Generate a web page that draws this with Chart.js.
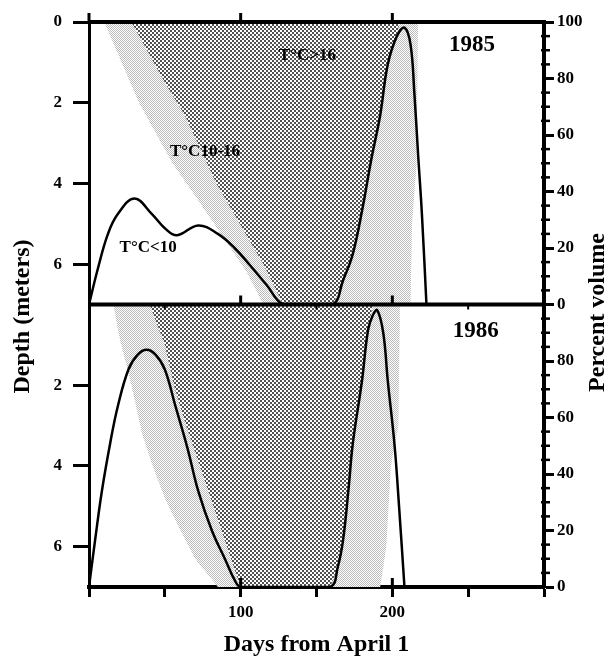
<!DOCTYPE html>
<html>
<head>
<meta charset="utf-8">
<script src="https://cdn.jsdelivr.net/npm/chart.js@4.4.0/dist/chart.umd.min.js"></script>
<style>
  html, body { margin: 0; padding: 0; background: #fff; }
</style>
</head>
<body>
<canvas id="myChart" width="615" height="657"></canvas>
<script>
// percent volume curves, days from April 1
const days1985 = [0, 6, 12.5, 19, 30, 41.5, 50, 58, 72, 85, 96, 106, 117, 128, 145, 161, 167.5, 174, 180.5, 186, 192, 197, 203, 208, 212, 214.5, 217, 219.5, 222.5];
const pct1985 = [0, 13, 25, 32, 37.5, 32, 27, 24.5, 28, 25, 20, 14, 7, 0, 0, 0, 8.5, 18, 34.5, 51, 67, 85, 95, 98, 92, 75, 53, 32, 0];
const days1986 = [0, 4, 8.5, 14, 19, 26, 32, 38, 44, 50, 57, 65, 72, 81, 90, 96, 100, 130, 159, 164, 167.5, 171, 174, 180, 184, 187, 190, 194, 197, 201.5, 204.5, 208];
const pct1986 = [0, 16.5, 34, 51, 64, 77, 82.2, 84, 82.2, 77, 64, 49, 34, 20, 9.5, 2.5, 0, 0, 0, 7, 16.5, 34, 51, 73, 91, 96, 98, 90, 73, 50, 28, 0];

// temperature zones, outline as (day, depth m)
const warmDays1985 = [10, 33, 55, 68, 88, 104, 115, 212, 213, 216, 217];
const warmDepth1985 = [0, 2, 3.5, 4.2, 5.3, 6.2, 7, 7, 5, 3.5, 0];
const hotDays1985 = [28, 50, 63, 84, 115, 128, 161, 167.5, 174, 180.5, 186.5, 192, 197, 203, 205];
const hotDepth1985 = [0, 1.5, 2.3, 4, 6, 7, 7, 6.4, 5.75, 4.6, 3.3, 2.3, 1.1, 0.3, 0];
const warmDays1986 = [16, 20, 28, 35, 42, 50, 59, 70, 85, 192, 196, 199, 204, 205];
const warmDepth1986 = [0, 0.8, 2, 3.2, 4, 4.8, 5.5, 6.3, 7, 7, 6, 4, 3, 0];
const hotDays1986 = [40, 50, 56, 64, 73, 82, 91, 100, 159, 164, 167.5, 171, 174, 180, 184, 187];
const hotDepth1986 = [0, 1, 2, 3, 4, 5, 6, 7, 7, 6.5, 5.85, 4.6, 3.4, 1.87, 0.64, 0];

const depthTicks = [0, 2, 4, 6];
const pctTicks = [0, 20, 40, 60, 80, 100];
const dayLabels = [100, 200];

const serif = "'Liberation Serif', 'Times New Roman', serif";

function pts(xs, ys) {
    return xs.map((x, i) => ({ x: x, y: ys[i] }));
}

// stipple patterns
function makePattern(size, dots, dot, color) {
    const c = document.createElement('canvas');
    c.width = size; c.height = size;
    const g = c.getContext('2d');
    g.fillStyle = '#fff';
    g.fillRect(0, 0, size, size);
    g.fillStyle = color;
    dots.forEach(d => g.fillRect(d[0], d[1], dot, dot));
    return g.createPattern(c, 'repeat');
}
const ctx = document.getElementById('myChart').getContext('2d');
const darkDots = makePattern(4, [[0, 0], [2, 2]], 2, '#505050');
const lightDots = makePattern(2, [[0, 0], [1, 1]], 1, '#bbbbbb');

function seg(c, x1, y1, x2, y2) {
    c.beginPath(); c.moveTo(x1, y1); c.lineTo(x2, y2); c.stroke();
}

const frame = {
    id: 'frame',
    afterDraw(chart) {
        const c = chart.ctx;
        const a = chart.chartArea;
        const s = chart.scales;
        const mid = s.dTop.bottom;
        c.save();
        c.strokeStyle = '#000';
        c.lineWidth = 4;
        seg(c, a.left - 1, a.top, a.right + 2, a.top);
        seg(c, a.left, mid, a.right, mid);
        c.lineWidth = 3;
        seg(c, a.left, a.top - 9, a.left, a.top);
        [100, 200].forEach(v => {
            const px = s.x.getPixelForValue(v);
            seg(c, px, a.top, px, a.top - 9);
            seg(c, px, mid, px, mid - 9);
            seg(c, px, a.bottom, px, a.bottom - 9);
        });
        c.lineWidth = 2;
        [50, 150, 250].forEach(v => {
            const px = s.x.getPixelForValue(v);
            seg(c, px, mid, px, mid + 5);
        });
        // minor ticks on the percent axis
        c.lineWidth = 2.5;
        [s.pTop, s.pBot].forEach(sc => {
            for (let v = 5; v < 100; v += 5) {
                if (v % 20 === 0) continue;
                const py = sc.getPixelForValue(v);
                seg(c, a.right - 3, py, a.right + 6, py);
            }
        });

        c.fillStyle = '#000';
        c.textAlign = 'center';
        c.textBaseline = 'middle';
        c.font = 'bold 24px ' + serif;
        c.save();
        c.translate(23, (a.top + a.bottom) / 2 + 12);
        c.rotate(-Math.PI / 2);
        c.fillText('Depth (meters)', 0, 0);
        c.restore();
        c.save();
        c.translate(598, (a.top + a.bottom) / 2 + 8);
        c.rotate(-Math.PI / 2);
        c.fillText('Percent volume', 0, 0);
        c.restore();

        c.font = 'bold 17px ' + serif;
        c.fillText('T\u00b0C>16', s.x.getPixelForValue(144), s.dTop.getPixelForValue(0.83));
        c.fillText('T\u00b0C10-16', s.x.getPixelForValue(76.5), s.dTop.getPixelForValue(3.2));
        c.fillText('T\u00b0C<10', s.x.getPixelForValue(39), s.dTop.getPixelForValue(5.6));
        c.font = 'bold 23px ' + serif;
        c.fillText('1985', s.x.getPixelForValue(252.5), s.dTop.getPixelForValue(0.58));
        c.fillText('1986', s.x.getPixelForValue(255), s.dBot.getPixelForValue(0.66));
        c.restore();
    }
};

const tickFont = { family: serif, size: 17, weight: 'bold' };

const myChart = new Chart(ctx, {
    type: 'line',
    data: {
        datasets: [
            { data: pts(days1985, pct1985), yAxisID: 'pTop', borderColor: '#000', borderWidth: 2.5, tension: 0.4, fill: false, order: 0 },
            { data: pts(days1986, pct1986), yAxisID: 'pBot', borderColor: '#000', borderWidth: 2.5, tension: 0.4, fill: false, order: 0 },
            { data: pts(hotDays1985, hotDepth1985), yAxisID: 'dTop', borderColor: 'transparent', backgroundColor: darkDots, fill: 'shape', tension: 0, order: 1 },
            { data: pts(hotDays1986, hotDepth1986), yAxisID: 'dBot', borderColor: 'transparent', backgroundColor: darkDots, fill: 'shape', tension: 0, order: 1 },
            { data: pts(warmDays1985, warmDepth1985), yAxisID: 'dTop', borderColor: 'transparent', backgroundColor: lightDots, fill: 'shape', tension: 0, order: 2 },
            { data: pts(warmDays1986, warmDepth1986), yAxisID: 'dBot', borderColor: 'transparent', backgroundColor: lightDots, fill: 'shape', tension: 0, order: 2 }
        ]
    },
    options: {
        responsive: false,
        animation: false,
        layout: { padding: { top: 22, left: 0, right: 0, bottom: 0 } },
        elements: { point: { radius: 0 } },
        plugins: { legend: { display: false }, tooltip: { enabled: false } },
        scales: {
            x: {
                type: 'linear', position: 'bottom', min: 0, max: 300, z: 1,
                afterFit: (sc) => { sc.height = 70; },
                border: { color: '#000', width: 4 },
                grid: { drawOnChartArea: false, tickLength: 10, tickWidth: 3, tickColor: '#000' },
                ticks: {
                    stepSize: 50, padding: 5, color: '#000', font: tickFont, maxRotation: 0, autoSkip: false,
                    callback: (v) => dayLabels.includes(v) ? String(v) : ''
                },
                title: {
                    display: true, text: 'Days from April 1', color: '#000',
                    font: { family: serif, size: 24, weight: 'bold', lineHeight: 1 }, padding: { top: 0, bottom: 0 }
                }
            },
            dTop: {
                type: 'linear', position: 'left', stack: 'left', stackWeight: 1, weight: 2,
                reverse: true, min: 0, max: 7, z: 1,
                afterFit: (sc) => { sc.width = 89; },
                border: { color: '#000', width: 3 },
                grid: { drawOnChartArea: false, tickLength: 16, tickWidth: 3, tickColor: '#000' },
                ticks: {
                    stepSize: 2, includeBounds: false, padding: 11, color: '#000', font: tickFont,
                    callback: (v) => depthTicks.includes(v) ? String(v) : ''
                }
            },
            dBot: {
                type: 'linear', position: 'left', stack: 'left', stackWeight: 1, weight: 1,
                reverse: true, min: 0, max: 7, z: 1,
                afterFit: (sc) => { sc.width = 89; },
                border: { color: '#000', width: 3 },
                grid: {
                    drawOnChartArea: false, tickLength: 16, tickWidth: 3,
                    tickColor: (c) => (c.tick && c.tick.value === 0) ? 'rgba(0,0,0,0)' : '#000'
                },
                ticks: {
                    stepSize: 2, includeBounds: false, padding: 11, color: '#000', font: tickFont,
                    callback: (v) => (v !== 0 && depthTicks.includes(v)) ? String(v) : ''
                }
            },
            pTop: {
                type: 'linear', position: 'right', stack: 'right', stackWeight: 1, weight: 1,
                min: 0, max: 100, z: 1,
                afterFit: (sc) => { sc.width = 71; },
                border: { color: '#000', width: 4 },
                grid: { drawOnChartArea: false, tickLength: 10, tickWidth: 3, tickColor: '#000' },
                ticks: {
                    stepSize: 20, padding: 3, color: '#000', font: tickFont,
                    callback: (v) => pctTicks.includes(v) ? String(v) : ''
                }
            },
            pBot: {
                type: 'linear', position: 'right', stack: 'right', stackWeight: 1, weight: 2,
                min: 0, max: 100, z: 1,
                afterFit: (sc) => { sc.width = 71; },
                border: { color: '#000', width: 4 },
                grid: { drawOnChartArea: false, tickLength: 10, tickWidth: 3, tickColor: '#000' },
                ticks: {
                    stepSize: 20, padding: 3, color: '#000', font: tickFont,
                    callback: (v) => (v !== 100 && pctTicks.includes(v)) ? String(v) : ''
                }
            }
        }
    },
    plugins: [frame]
});
</script>
</body>
</html>
